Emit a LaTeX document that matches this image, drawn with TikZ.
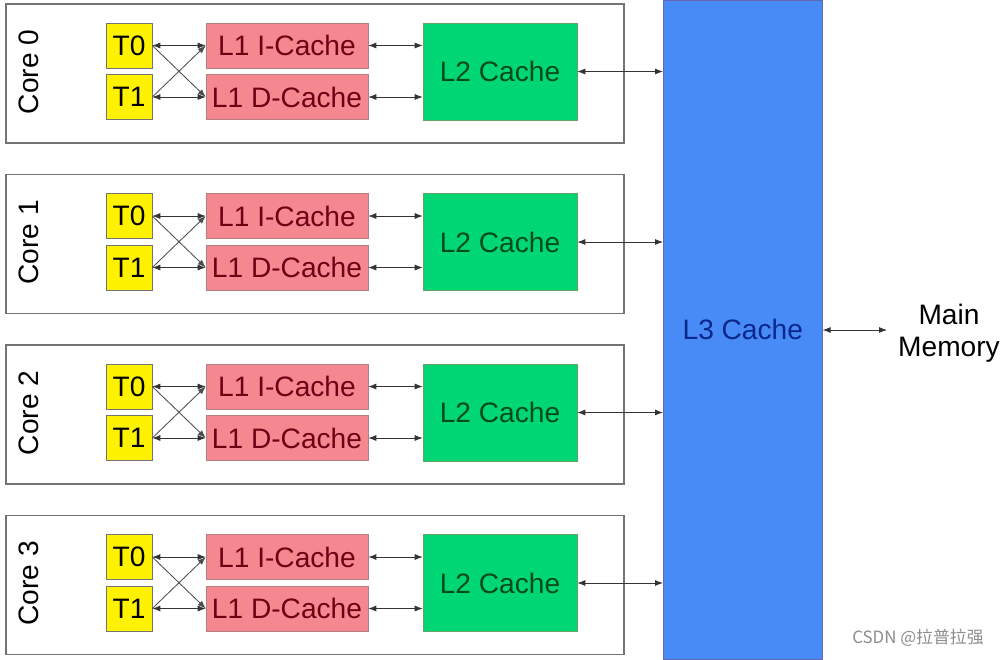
\documentclass[tikz,border=0pt]{standalone}
\usepackage{fontspec}
\setmainfont{Liberation Sans}
\newfontfamily\cjk{Noto Sans CJK SC}
\usetikzlibrary{arrows.meta,calc,positioning}
\definecolor{tyellow}{RGB}{255,242,0}
\definecolor{lpink}{RGB}{245,135,145}
\definecolor{lpinktext}{RGB}{110,0,20}
\definecolor{lgreen}{RGB}{0,214,115}
\definecolor{lgreentext}{RGB}{0,75,30}
\definecolor{lblue}{RGB}{72,138,246}
\definecolor{lbluetext}{RGB}{10,40,140}
\definecolor{edgegray}{RGB}{115,115,115}
\tikzset{
  big/.style={font=\fontsize{20}{23}\selectfont},
  corebox/.style={draw=edgegray,line width=1.2pt,fill=white,minimum width=15.45cm,minimum height=3.475cm,inner sep=0pt},
  thread/.style={big,draw=black!55,fill=tyellow,minimum width=1.15cm,minimum height=1.125cm,inner sep=0pt},
  lone/.style={big,draw=red!40!black!50,fill=lpink,text=lpinktext,minimum width=4.05cm,minimum height=1.125cm,inner sep=0pt},
  ltwo/.style={big,draw=green!40!black!60,fill=lgreen,text=lgreentext,minimum width=3.85cm,minimum height=2.425cm,inner sep=0pt},
  lthree/.style={big,draw=blue!50!black!60,fill=lblue,text=lbluetext,minimum width=3.975cm,minimum height=16.475cm,inner sep=0pt},
  link/.style={<->,line width=0.6pt,black!80},
  cross/.style={->,line width=0.6pt,black!70},
}
\begin{document}
\begin{tikzpicture}[x=0.025cm,y=-0.025cm,>={Latex[length=2mm,width=1.5mm]}]
\useasboundingbox (0,0) rectangle (1003,659);
% shared L3 and memory
\node[lthree,anchor=north west] (L3) at (663,0) {L3 Cache};
\node[big,align=center,inner sep=2pt] (mem) at (949,333) {Main\\Memory};
\draw[link] (L3.east |- 0,330) -- (887,330) coordinate (memin);
% one row per core
\foreach \c in {0,...,3}{
  \pgfmathsetmacro{\yo}{170.5*\c}
  \node[corebox,anchor=north west] (core\c) at (5,3+\yo) {};
  \node[big,rotate=90] (lab\c) at (29,72+\yo) {Core \c};
  \node[thread] (tz\c) at (129,45.5+\yo) {T0};
  \node[thread] (to\c) at (129,97+\yo) {T1};
  \node[lone] (li\c) at (287,45.5+\yo) {L1 I-Cache};
  \node[lone] (ld\c) at (287,97+\yo) {L1 D-Cache};
  \node[ltwo] (ltw\c) at (500,71.5+\yo) {L2 Cache};
  \draw[link] (tz\c.east) -- (li\c.west);
  \draw[link] (to\c.east) -- (ld\c.west);
  \draw[cross] (tz\c.east) -- (ld\c.west);
  \draw[cross] (to\c.east) -- (li\c.west);
  \draw[link] (li\c.east) -- (li\c.east -| ltw\c.west);
  \draw[link] (ld\c.east) -- (ld\c.east -| ltw\c.west);
  \draw[link] (ltw\c.east) -- (ltw\c.east -| L3.west);
}
\node[text=black!45,font=\cjk\fontsize{12}{14}\selectfont] (mark) at (918,638) {CSDN @拉普拉强};
\end{tikzpicture}
\end{document}
